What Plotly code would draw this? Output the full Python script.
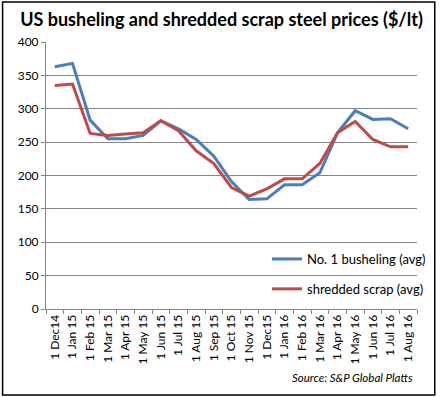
import plotly.graph_objects as go

months = ["1 Dec14", "1 Jan 15", "1 Feb 15", "1 Mar 15", "1 Apr 15", "1 May 15",
          "1 Jun 15", "1 Jul 15", "1 Aug 15", "1 Sep 15", "1 Oct 15", "1 Nov 15",
          "1 Dec15", "1 Jan 16", "1 Feb 16", "1 Mar 16", "1 Apr 16", "1 May 16",
          "1 Jun 16", "1 Jul 16", "1 Aug 16"]
busheling = [363, 368, 283, 255, 255, 260, 282, 270, 254, 229, 191, 164,
             165, 186, 186, 204, 264, 297, 284, 285, 270]
shredded = [335, 337, 263, 260, 262, 264, 282, 267, 237, 218, 182, 169,
            180, 195, 195, 218, 264, 281, 254, 243, 243]
y_ticks = [0, 50, 100, 150, 200, 250, 300, 350, 400]

BLUE = "#4A7EBB"
RED = "#BE4B48"
FONT = "Lato"

fig = go.Figure()
fig.add_trace(go.Scatter(x=months, y=busheling, mode="lines", name="No. 1 busheling (avg)",
                         line=dict(color=BLUE, width=3), legendgroup="a"))
fig.add_trace(go.Scatter(x=months, y=shredded, mode="lines", name="shredded scrap (avg)",
                         line=dict(color=RED, width=3), legendgroup="b"))

W, H = 443, 397
L, R, T, B = 46, 21, 42, 88
pw, ph = W - L - R, H - T - B

fig.update_layout(
    width=W, height=H,
    margin=dict(l=L, r=R, t=T, b=B, pad=0),
    paper_bgcolor="white", plot_bgcolor="white",
    font=dict(family=FONT, size=12, color="#000000"),
    title=dict(text="<b>US busheling and shredded scrap steel prices ($/lt)</b>",
               x=0.5, xanchor="center", y=1 - 20 / H, yanchor="middle",
               font=dict(family=FONT, size=18, color="#000000")),
    xaxis=dict(type="category", tickangle=-90, showgrid=False, showline=True,
               linecolor="#868686", linewidth=1, ticks="outside", tickcolor="#868686",
               ticklen=4, tickson="boundaries", tickfont=dict(size=12), zeroline=False,
               range=[-0.5, len(months) - 0.5]),
    yaxis=dict(range=[0, 400], tickvals=y_ticks, showgrid=True, gridcolor="#868686",
               gridwidth=1, showline=True, linecolor="#868686", linewidth=1,
               ticks="outside", tickcolor="#868686", ticklen=4, tickfont=dict(size=12),
               zeroline=False),
    legend=dict(x=(270 - L) / pw, y=(309 - 244) / ph, xanchor="left", yanchor="top",
                bgcolor="rgba(0,0,0,0)", traceorder="grouped", tracegroupgap=10,
                font=dict(size=13), itemwidth=30),
    showlegend=True,
)

fig.add_annotation(text="<i>Source: S&P Global Platts</i>", xref="paper", yref="paper",
                   x=(420 - L) / pw, y=(309 - 377) / ph, xanchor="right", yanchor="middle",
                   showarrow=False, font=dict(size=11.5, color="#000000"))

fig.add_shape(type="rect", xref="paper", yref="paper",
              x0=(2 - L) / pw, x1=(440 - L) / pw, y0=(309 - 395) / ph, y1=(309 - 2) / ph,
              line=dict(color="black", width=1.5), fillcolor="rgba(0,0,0,0)", layer="above")

fig.write_html("out.html", config={"displayModeBar": False},
               post_script="document.body.style.margin='0';document.body.style.overflow='hidden';")
